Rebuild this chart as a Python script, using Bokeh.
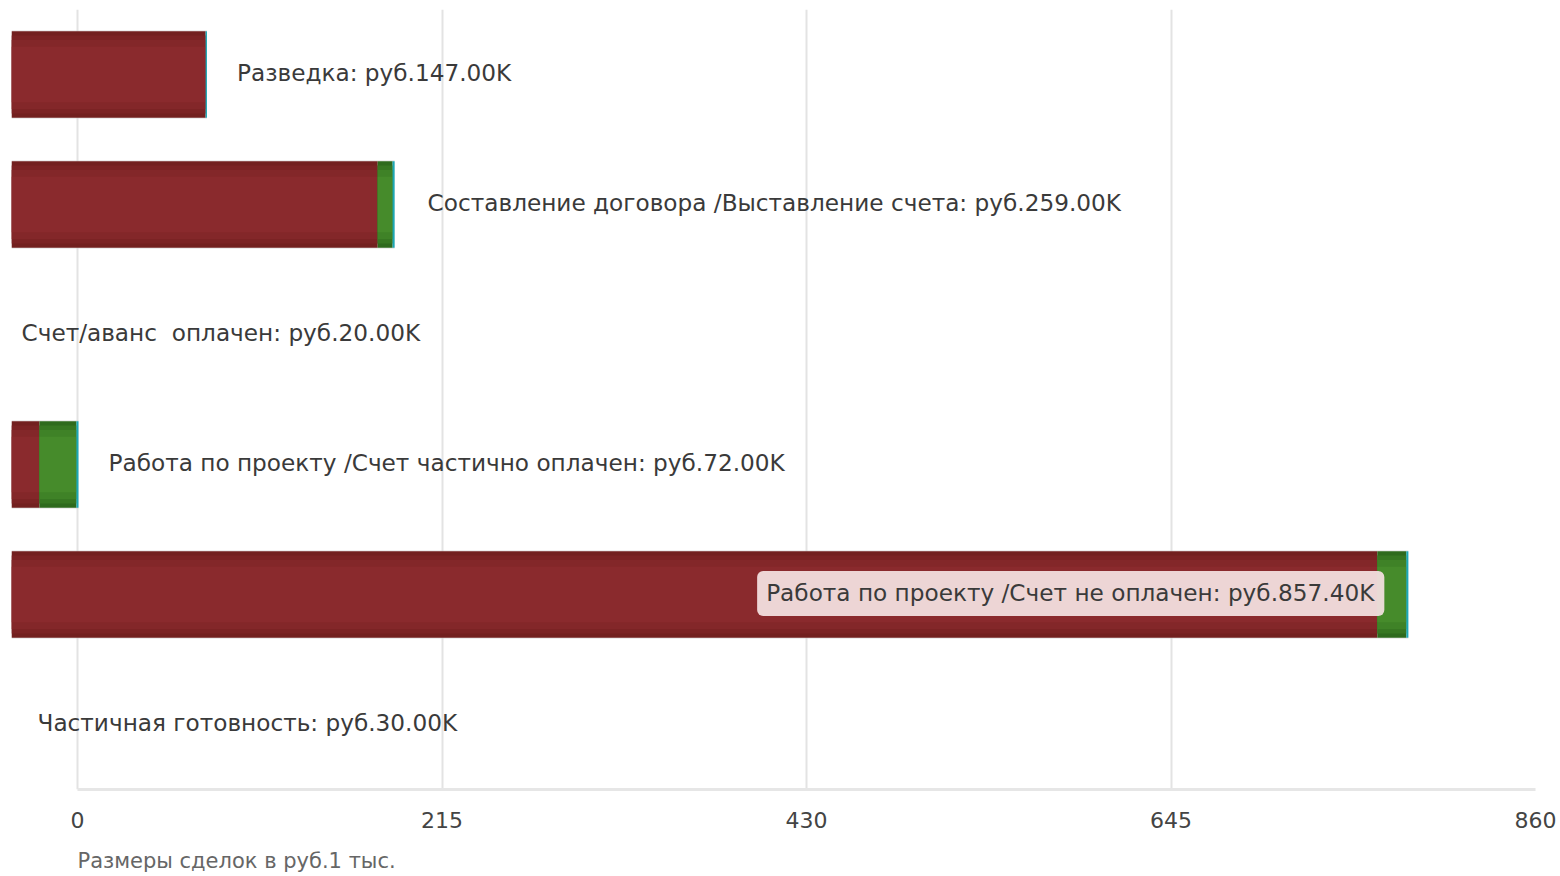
import numpy as np
from bokeh.plotting import figure
from bokeh.models import ColumnDataSource, Range1d, FactorRange, FixedTicker, Title
from bokeh.core.properties import value
from bokeh.embed import file_html
from bokeh.resources import INLINE

# ---------------- data ----------------
stages = [
    "Разведка",
    "Составление договора /Выставление счета",
    "Счет/аванс  оплачен",
    "Работа по проекту /Счет частично оплачен",
    "Работа по проекту /Счет не оплачен",
    "Частичная готовность",
]
amounts = ["руб.147.00K", "руб.259.00K", "руб.20.00K", "руб.72.00K", "руб.857.40K", "руб.30.00K"]
# segment lengths (thousands), stacked left to right
red_seg = [114.5, 216.0, 0.0, 16.5, 805.7, 0.0]
green_seg = [0.0, 8.8, 0.0, 21.8, 17.1, 0.0]
teal_seg = [0.8, 1.2, 0.0, 1.2, 1.2, 0.0]
x_ticks = [0, 215, 430, 645, 860]
axis_title = "Размеры сделок в руб.1 тыс."
BAR_BASE = -39
X_END = 860

# ---------------- styles ----------------
FONT = "DejaVu Sans"
RED_SHADES = ["#72201f", "#7b2324", "#832729", "#8a2a2d"]
GREEN_SHADES = ["#2e6a1d", "#377722", "#3f8227", "#468b2b"]
SHADE_H = [1.0, 0.9, 0.8, 0.64]
TEAL = "#1ba8b5"
label_pad_px = [30, 33, 10, 30, 7, 26]
label_inside = [False, False, False, False, True, False]
LABEL_SIZE = "23.2px"

red = np.array(red_seg)
green = np.array(green_seg)
teal = np.array(teal_seg)
r_left = BAR_BASE + np.zeros(len(stages))
r_right = r_left + red
g_right = r_right + green
t_right = g_right + teal

src = ColumnDataSource(dict(y=stages, r_left=r_left, r_right=r_right,
                            g_right=g_right, t_right=t_right))

p = figure(
    y_range=FactorRange(factors=stages[::-1], range_padding=0),
    x_range=Range1d(BAR_BASE, X_END),
    frame_width=1524, frame_height=780,
    min_border_left=11, min_border_right=22, min_border_top=9, min_border_bottom=0,
    output_backend="svg", toolbar_location=None,
)
p.outline_line_color = None
p.background_fill_color = "white"
p.border_fill_color = "white"

# bars: soft shadow, then shaded bands (gradient impression)
H = 0.665
p.hbar(y="y", left="r_left", right="t_right", height=H + 0.014, source=src,
       fill_color="#d0d0d0", fill_alpha=0.5, line_color=None)
for c, f in zip(RED_SHADES, SHADE_H):
    p.hbar(y="y", left="r_left", right="r_right", height=H * f, source=src,
           fill_color=c, line_color=None)
for c, f in zip(GREEN_SHADES, SHADE_H):
    p.hbar(y="y", left="r_right", right="g_right", height=H * f, source=src,
           fill_color=c, line_color=None)
p.hbar(y="y", left="g_right", right="t_right", height=H, source=src,
       fill_color=TEAL, line_color=None)

# labels (keep the double space visible in SVG)
texts = [f"{s}: {a}".replace("  ", " \u00a0") for s, a in zip(stages, amounts)]
out_idx = [i for i in range(len(stages)) if not label_inside[i]]
in_idx = [i for i in range(len(stages)) if label_inside[i]]
out_src = ColumnDataSource(dict(
    y=[stages[i] for i in out_idx],
    x=[t_right[i] for i in out_idx],
    t=[texts[i] for i in out_idx],
    dx=[label_pad_px[i] for i in out_idx],
))
p.text(x="x", y="y", text="t", x_offset="dx", y_offset=-2, source=out_src,
       text_font=value(FONT), text_font_size=LABEL_SIZE, text_color="#3a3a3a",
       text_align="left", text_baseline="middle")
in_src = ColumnDataSource(dict(
    y=[stages[i] for i in in_idx],
    x=[r_right[i] for i in in_idx],
    t=[texts[i] for i in in_idx],
    dx=[label_pad_px[i] for i in in_idx],
))
p.text(x="x", y="y", text="t", x_offset="dx", y_offset=-1, source=in_src,
       text_font=value(FONT), text_font_size=LABEL_SIZE, text_color="#3a3a3a",
       text_align="right", text_baseline="middle",
       background_fill_color="#f2dede", background_fill_alpha=0.95,
       padding=[9, 10, 8, 10], border_radius=6)

# grid / axes
p.ygrid.visible = False
p.xgrid.ticker = FixedTicker(ticks=x_ticks)
p.xgrid.grid_line_color = "#e3e3e3"
p.xgrid.grid_line_width = 2
p.xgrid.level = "underlay"
p.yaxis.visible = False

ax = p.xaxis[0]
ax.ticker = FixedTicker(ticks=x_ticks)
ax.bounds = (0, X_END)
ax.axis_line_color = "#e6e6e6"
ax.axis_line_width = 3
ax.major_tick_line_color = None
ax.minor_tick_line_color = None
ax.major_tick_out = 0
ax.major_tick_in = 0
ax.major_label_standoff = 22
ax.major_label_text_font = FONT
ax.major_label_text_font_size = "22px"
ax.major_label_text_color = "#444444"

p.add_layout(Title(text=axis_title, align="left", offset=66, standoff=32,
                   text_font=FONT, text_font_size="21px", text_font_style="normal",
                   text_color="#666666"), "below")

open("out.html", "w").write(file_html(p, INLINE))
